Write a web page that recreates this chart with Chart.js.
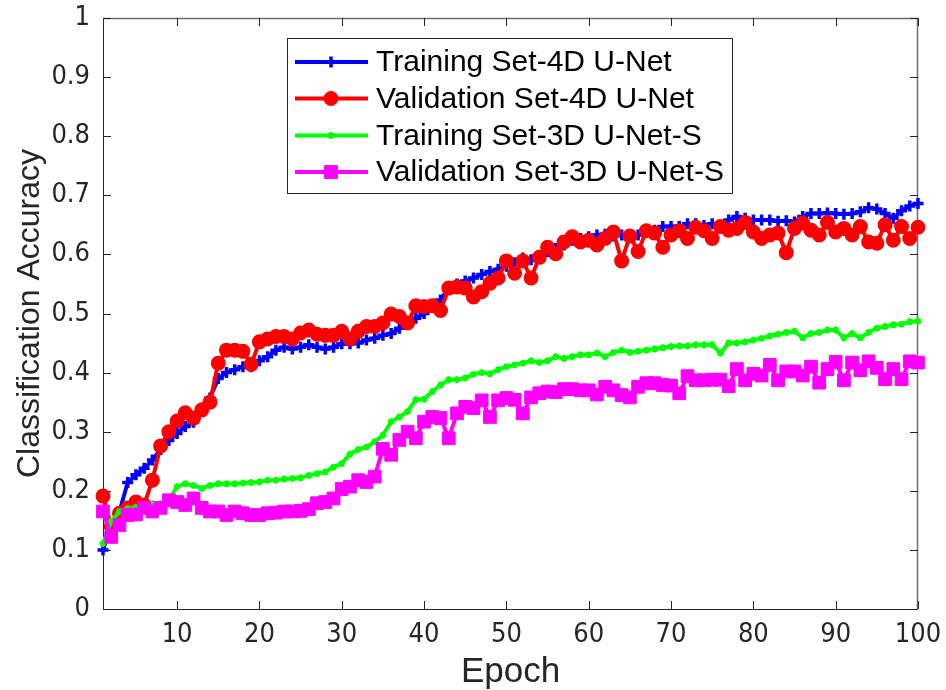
<!DOCTYPE html>
<html>
<head>
<meta charset="utf-8">
<script src="https://cdn.jsdelivr.net/npm/chart.js@4.4.1/dist/chart.umd.min.js"></script>
<style>
html,body{margin:0;padding:0;background:#fff;}
#wrap{width:946px;height:690px;}
</style>
</head>
<body>
<div id="wrap"><canvas id="c" width="946" height="690"></canvas></div>
<script>
const epochs = [1,2,3,4,5,6,7,8,9,10,11,12,13,14,15,16,17,18,19,20,21,22,23,24,25,26,27,28,29,30,31,32,33,34,35,36,37,38,39,40,41,42,43,44,45,46,47,48,49,50,51,52,53,54,55,56,57,58,59,60,61,62,63,64,65,66,67,68,69,70,71,72,73,74,75,76,77,78,79,80,81,82,83,84,85,86,87,88,89,90,91,92,93,94,95,96,97,98,99,100];

const trainSet4D = [
  .10,.14,.165,.214,.227,.238,.252,.27,.285,.297,
  .309,.316,.337,.357,.39,.40,.405,.41,.41,.42,
  .427,.438,.443,.44,.443,.447,.443,.44,.443,.449,
  .449,.45,.455,.458,.463,.466,.475,.484,.492,.50,
  .512,.523,.543,.55,.555,.56,.566,.571,.575,.58,
  .586,.594,.591,.594,.605,.61,.616,.624,.627,.63,
  .633,.634,.631,.633,.631,.633,.638,.641,.647,.647,
  .647,.652,.652,.649,.652,.649,.658,.664,.661,.658,
  .658,.658,.656,.657,.655,.664,.669,.669,.67,.669,
  .668,.669,.672,.679,.677,.669,.661,.674,.682,.686];

const valSet4D = [
  .191,.14,.162,.171,.181,.176,.218,.276,.30,.318,
  .332,.323,.337,.35,.416,.438,.438,.436,.414,.452,
  .457,.461,.461,.457,.467,.472,.465,.463,.463,.47,
  .457,.47,.478,.478,.484,.499,.495,.484,.513,.512,
  .513,.505,.543,.545,.543,.528,.537,.551,.56,.589,
  .568,.589,.56,.595,.612,.601,.621,.63,.621,.624,
  .616,.627,.638,.589,.631,.605,.64,.636,.612,.633,
  .64,.627,.646,.64,.627,.647,.641,.644,.654,.638,
  .627,.633,.636,.603,.644,.653,.641,.633,.654,.638,
  .644,.633,.647,.621,.619,.65,.624,.647,.627,.646];

const trainSet3DS = [
  .111,.148,.165,.17,.172,.175,.178,.178,.184,.207,
  .212,.209,.204,.209,.212,.212,.212,.213,.214,.215,
  .218,.218,.22,.221,.222,.226,.229,.232,.24,.246,
  .262,.27,.274,.283,.294,.317,.325,.334,.354,.355,
  .368,.379,.388,.388,.391,.397,.40,.398,.405,.41,
  .413,.416,.42,.417,.42,.427,.424,.427,.43,.43,
  .433,.427,.434,.438,.434,.436,.438,.44,.442,.444,
  .445,.445,.447,.447,.447,.433,.45,.45,.452,.455,
  .458,.462,.465,.468,.47,.459,.466,.468,.472,.472,
  .459,.466,.459,.468,.475,.478,.481,.482,.486,.487];

const valSet3DS = [
  .165,.122,.142,.159,.16,.171,.165,.171,.184,.181,
  .176,.187,.171,.165,.165,.159,.165,.162,.159,.159,
  .162,.163,.165,.165,.166,.169,.179,.181,.187,.203,
  .207,.218,.215,.224,.271,.261,.286,.30,.289,.317,
  .325,.323,.289,.331,.342,.34,.353,.325,.353,.357,
  .354,.331,.358,.365,.368,.367,.372,.372,.37,.37,
  .363,.376,.37,.362,.358,.376,.382,.382,.379,.378,
  .365,.394,.387,.387,.388,.388,.377,.406,.387,.398,
  .395,.413,.387,.402,.402,.395,.41,.383,.406,.418,
  .387,.417,.404,.419,.408,.389,.406,.389,.419,.417];

const seriesLabels = ['Training Set-4D U-Net','Validation Set-4D U-Net','Training Set-3D U-Net-S','Validation Set-3D U-Net-S'];
const xTicks = [10,20,30,40,50,60,70,80,90,100];
const yTicks = [0,0.1,0.2,0.3,0.4,0.5,0.6,0.7,0.8,0.9,1];
const yTickLabels = ['0','0.1','0.2','0.3','0.4','0.5','0.6','0.7','0.8','0.9','1'];

const FONT = '"Liberation Sans", Arial, Helvetica, sans-serif';
const NARROW = '"Liberation Sans Narrow", "Arial Narrow", "DejaVu Sans Condensed", sans-serif';
const pts = arr => arr.map((v,i)=>({x:epochs[i], y:v}));

const datasets = [
  {label:seriesLabels[0], data:pts(trainSet4D), borderColor:'#0000ff', backgroundColor:'#0000ff',
   borderWidth:4, pointStyle:'cross', pointRadius:5.5, pointBorderWidth:3.5, order:4},
  {label:seriesLabels[1], data:pts(valSet4D), borderColor:'#ff0000', backgroundColor:'#ff0000',
   borderWidth:4, pointStyle:'circle', pointRadius:6, pointBorderWidth:3, order:3},
  {label:seriesLabels[2], data:pts(trainSet3DS), borderColor:'#00ff00', backgroundColor:'#00ff00',
   borderWidth:4, pointStyle:'star', pointRadius:3.5, pointBorderWidth:2, order:2},
  {label:seriesLabels[3], data:pts(valSet3DS), borderColor:'#ff00ff', backgroundColor:'#ff00ff',
   borderWidth:4, pointStyle:'rect', pointRadius:9, pointBorderWidth:1, order:1}
].map(d=>Object.assign(d,{tension:0, clip:false, fill:false, pointHoverRadius:d.pointRadius}));

function drawMarker(ctx, ds, x, y){
  ctx.save();
  ctx.strokeStyle = ds.borderColor; ctx.fillStyle = ds.backgroundColor;
  ctx.lineWidth = ds.pointBorderWidth;
  Chart.helpers.drawPoint(ctx, {pointStyle:ds.pointStyle, radius:ds.pointRadius, borderWidth:ds.pointBorderWidth, rotation:0}, x, y);
  ctx.restore();
}

const framePlugin = {
  id:'frame',
  beforeDatasetsDraw(chart){
    const {ctx, chartArea:a, scales:{x, y}} = chart;
    ctx.save();
    ctx.lineWidth = 1;
    ctx.strokeStyle = '#262626';
    ctx.beginPath();
    ctx.moveTo(a.left+0.5, a.top); ctx.lineTo(a.left+0.5, a.bottom+0.5); ctx.lineTo(a.right, a.bottom+0.5);
    ctx.stroke();
    ctx.strokeStyle = '#6e6e6e';
    ctx.lineWidth = 1.5;
    ctx.beginPath();
    ctx.moveTo(a.left, a.top+0.5); ctx.lineTo(a.right-0.5, a.top+0.5); ctx.lineTo(a.right-0.5, a.bottom);
    ctx.stroke();
    ctx.lineWidth = 1;
    ctx.strokeStyle = '#262626';
    const tl = 8;
    ctx.beginPath();
    xTicks.forEach(v=>{
      const px = Math.round(x.getPixelForValue(v))+0.5;
      ctx.moveTo(px, a.bottom); ctx.lineTo(px, a.bottom-tl);
      ctx.moveTo(px, a.top); ctx.lineTo(px, a.top+tl);
    });
    yTicks.forEach(v=>{
      const py = Math.round(y.getPixelForValue(v))+0.5;
      ctx.moveTo(a.left, py); ctx.lineTo(a.left+tl, py);
      ctx.moveTo(a.right, py); ctx.lineTo(a.right-tl, py);
    });
    ctx.stroke();
    ctx.restore();
  },
  afterDraw(chart){
    const ctx = chart.ctx;
    const bx = 287, by = 38, bw = 445, bh = 155;
    ctx.save();
    ctx.fillStyle = '#fff';
    ctx.fillRect(bx, by, bw, bh);
    ctx.strokeStyle = '#262626';
    ctx.lineWidth = 1;
    ctx.strokeRect(bx+0.5, by+0.5, bw, bh);
    const rows = [62, 98.5, 135.5, 172];
    chart.data.datasets.forEach((ds,i)=>{
      const yy = rows[i];
      ctx.strokeStyle = ds.borderColor;
      ctx.lineWidth = ds.borderWidth;
      ctx.beginPath(); ctx.moveTo(295, yy); ctx.lineTo(368, yy); ctx.stroke();
      drawMarker(ctx, ds, 331, yy);
      ctx.fillStyle = '#000';
      ctx.font = '30px ' + FONT;
      ctx.textBaseline = 'middle';
      ctx.textAlign = 'left';
      ctx.fillText(ds.label, 376, yy+1);
    });
    ctx.restore();
  }
};

new Chart(document.getElementById('c'), {
  type:'line',
  data:{datasets},
  options:{
    responsive:false,
    devicePixelRatio:1,
    animation:false,
    events:[],
    layout:{padding:{top:18, right:28, left:0, bottom:0}},
    plugins:{legend:{display:false}, tooltip:{enabled:false}, title:{display:false}},
    scales:{
      x:{
        type:'linear', min:1, max:100,
        afterBuildTicks(s){ s.ticks = xTicks.map(v=>({value:v})); },
        afterFit(s){ s.height = 81; s.paddingLeft = 0; s.paddingRight = 0; },
        grid:{display:false, drawTicks:false},
        border:{display:false},
        ticks:{color:'#262626', font:{family:NARROW, size:27}, padding:10, maxRotation:0, autoSkip:false},
        title:{display:true, text:'Epoch', color:'#262626', font:{family:FONT, size:35, lineHeight:1}, padding:{top:0,bottom:0}}
      },
      y:{
        type:'linear', min:0, max:1,
        afterBuildTicks(s){ s.ticks = yTicks.map(v=>({value:v})); },
        afterFit(s){ s.width = 103; s.paddingTop = 0; s.paddingBottom = 0; },
        grid:{display:false, drawTicks:false},
        border:{display:false},
        ticks:{color:'#262626', font:{family:NARROW, size:27}, padding:13, autoSkip:false,
          callback:(v)=>{ const i = yTicks.findIndex(t=>Math.abs(t-v)<1e-9); return i>=0 ? yTickLabels[i] : ''; }},
        title:{display:true, text:'Classification Accuracy', color:'#262626', font:{family:FONT, size:32, lineHeight:1}, padding:{top:14,bottom:0}}
      }
    }
  },
  plugins:[framePlugin]
});
</script>
</body>
</html>
